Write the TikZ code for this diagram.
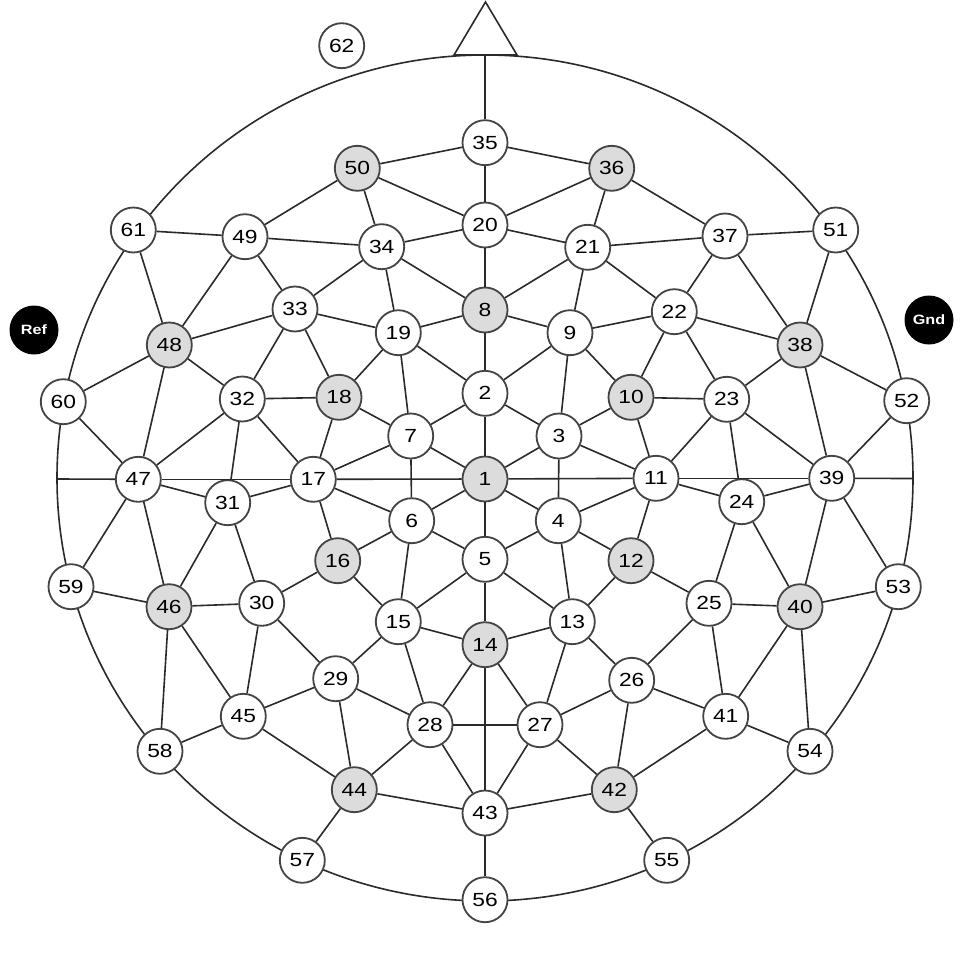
\documentclass[tikz,border=0pt]{standalone}
\usepackage{fontspec}
\setmainfont[FakeStretch=1.2]{Liberation Sans}
\usetikzlibrary{backgrounds}
\definecolor{nodeborder}{HTML}{444444}
\definecolor{linecol}{HTML}{2A2A2A}
\definecolor{graycol}{HTML}{DCDCDC}
\begin{document}
\begin{tikzpicture}[x=1pt,y=-1pt,
  el/.style={circle,draw=nodeborder,line width=1.8pt,fill=white,minimum size=45pt,inner sep=0pt,font=\fontsize{19}{19}\selectfont},
  gr/.style={el,fill=graycol},
  blk/.style={circle,fill=black,minimum size=49pt,inner sep=0pt,text=white,font=\bfseries\fontsize{13.5}{13.5}\selectfont},
  wire/.style={draw=linecol,line width=1.6pt}]
\useasboundingbox (0,0) rectangle (969,958);
% nodes
\node[gr] (n1) at (485,479) {1};
\node[el] (n2) at (485,393.3) {2};
\node[el] (n3) at (559,436) {3};
\node[el] (n4) at (558.3,520.7) {4};
\node[el] (n5) at (485,559.3) {5};
\node[el] (n6) at (411.7,520.7) {6};
\node[el] (n7) at (410.7,436) {7};
\node[gr] (n8) at (485,310) {8};
\node[el] (n9) at (570,332.7) {9};
\node[gr] (n10) at (631,397.3) {10};
\node[el] (n11) at (656,478.3) {11};
\node[gr] (n12) at (631,560.7) {12};
\node[el] (n13) at (572.3,621.7) {13};
\node[gr] (n14) at (485,644.7) {14};
\node[el] (n15) at (398.3,621.7) {15};
\node[gr] (n16) at (337.7,560.7) {16};
\node[el] (n17) at (313.3,479.3) {17};
\node[gr] (n18) at (339,397.3) {18};
\node[el] (n19) at (398.3,332.7) {19};
\node[el] (n20) at (485,225) {20};
\node[el] (n21) at (587.7,247.3) {21};
\node[el] (n22) at (674.3,311.7) {22};
\node[el] (n23) at (726.7,399.3) {23};
\node[el] (n24) at (741.7,501.7) {24};
\node[el] (n25) at (709,603.3) {25};
\node[el] (n26) at (631.7,680.3) {26};
\node[el] (n27) at (540,724.7) {27};
\node[el] (n28) at (430,724.7) {28};
\node[el] (n29) at (335.7,678.7) {29};
\node[el] (n30) at (261.7,603.3) {30};
\node[el] (n31) at (227.7,502.7) {31};
\node[el] (n32) at (242.3,399) {32};
\node[el] (n33) at (295,309) {33};
\node[el] (n34) at (381.7,246.7) {34};
\node[el] (n35) at (485,142.7) {35};
\node[gr] (n36) at (611.7,168.3) {36};
\node[el] (n37) at (725,236) {37};
\node[gr] (n38) at (800,345) {38};
\node[el] (n39) at (831.7,478.3) {39};
\node[gr] (n40) at (800,606.7) {40};
\node[el] (n41) at (725.7,716.3) {41};
\node[gr] (n42) at (614.3,789.7) {42};
\node[el] (n43) at (485,813) {43};
\node[gr] (n44) at (354.3,789.7) {44};
\node[el] (n45) at (243.3,716.3) {45};
\node[gr] (n46) at (169,606.7) {46};
\node[el] (n47) at (138.3,479.3) {47};
\node[gr] (n48) at (169.3,345) {48};
\node[el] (n49) at (245,236.7) {49};
\node[gr] (n50) at (357.3,168.3) {50};
\node[el] (n51) at (835.7,230) {51};
\node[el] (n52) at (906.7,400.7) {52};
\node[el] (n53) at (898.3,586.7) {53};
\node[el] (n54) at (810,751.3) {54};
\node[el] (n55) at (666.7,860.3) {55};
\node[el] (n56) at (485,899.7) {56};
\node[el] (n57) at (302.3,860.3) {57};
\node[el] (n58) at (160,751.3) {58};
\node[el] (n59) at (71,586.7) {59};
\node[el] (n60) at (63.3,401.7) {60};
\node[el] (n61) at (133.3,230) {61};
\node[el] (n62) at (341.7,45.7) {62};
\node[blk] (ref) at (34,330) {Ref};
\node[blk] (gnd) at (929,320) {Gnd};
\coordinate (T) at (485,55);
\coordinate (L) at (57,479);
\coordinate (R) at (913,478.5);
\begin{pgfonlayer}{background}
\draw[wire] (485,478) ellipse [x radius=428pt, y radius=423pt];
\draw[wire,line join=miter] (454,55) -- (485.5,2) -- (517,55) -- cycle;
\end{pgfonlayer}
\draw[wire] (n35) -- (T);
\draw[wire] (n47) -- (L);
\draw[wire] (n39) -- (R);
\foreach \a/\b in {35/50,35/36,35/20,50/20,50/34,50/49,36/20,36/21,36/37,
  20/34,20/21,20/8,34/49,34/33,34/19,34/8,21/37,21/22,21/9,21/8,
  61/49,61/48,49/48,49/33,37/51,37/22,37/38,51/38,
  33/48,33/32,33/18,33/19,22/9,22/10,22/23,22/38,
  8/19,8/9,8/2,19/18,19/7,19/2,9/2,9/3,9/10,
  48/60,48/47,48/32,38/23,38/39,38/52,60/47,
  32/18,32/47,32/31,32/17,18/7,18/17,2/7,2/3,2/1,
  10/3,10/23,10/11,23/11,23/24,23/39,52/39,
  7/1,7/17,7/6,3/1,3/11,3/4,
  47/17,47/31,47/59,47/46,17/1,17/31,17/6,17/16,
  1/11,1/6,1/4,1/5,11/39,11/24,11/4,11/12,
  39/24,39/40,39/53,31/46,31/30,6/16,6/5,6/15,
  4/5,4/12,4/13,24/25,24/40,59/46,46/30,46/58,46/45,
  30/16,30/45,30/29,16/15,5/15,5/13,5/14,12/13,12/25,
  25/40,25/26,25/41,40/53,40/41,40/54,
  15/14,15/29,15/28,13/14,13/27,13/26,14/28,14/27,14/43,
  29/45,29/28,29/44,26/27,26/42,26/41,45/58,45/44,
  28/27,28/44,28/43,27/43,27/42,41/42,41/54,
  44/43,44/57,42/43,42/55,43/56}
  \draw[wire] (n\a) -- (n\b);
\end{tikzpicture}
\end{document}
